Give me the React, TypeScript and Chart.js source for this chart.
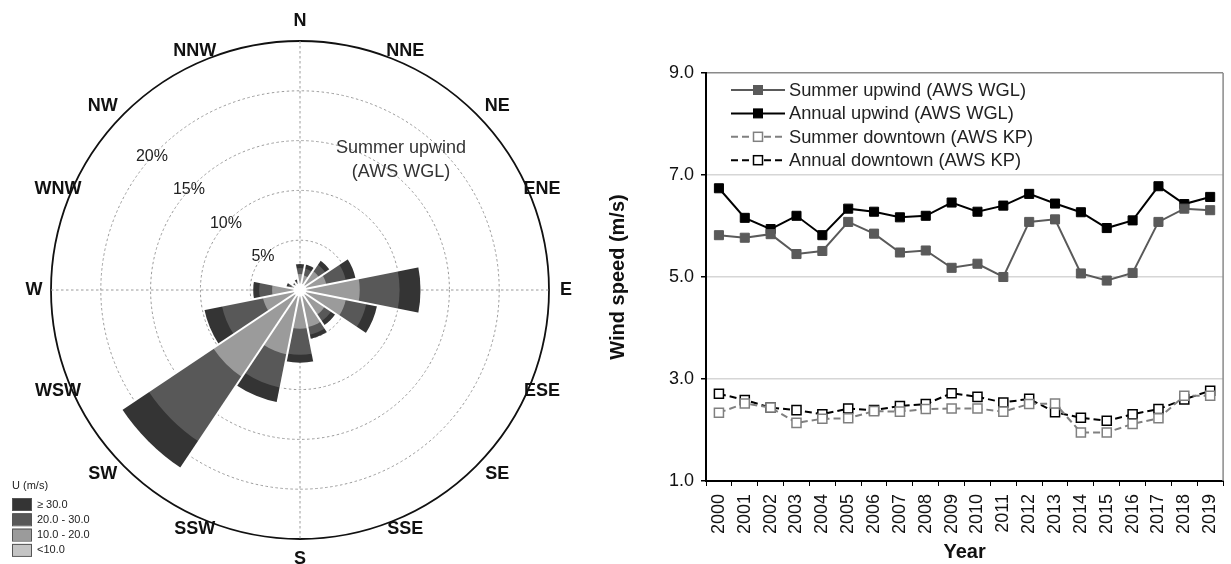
import React, { useEffect, useRef } from 'react';
import { Chart, registerables } from 'chart.js';

Chart.register(...registerables);

const FONT = "'Liberation Sans', Arial, Helvetica, sans-serif";
Chart.defaults.font.family = FONT;

// ---------- Wind rose data (frequency, %) ----------
const directions = ['N', 'NNE', 'NE', 'ENE', 'E', 'ESE', 'SE', 'SSE', 'S', 'SSW', 'SW', 'WSW', 'W', 'WNW', 'NW', 'NNW'];
const speedClasses = ['<10.0', '10.0 - 20.0', '20.0 - 30.0', '\u2265 30.0'];
const freqBelow10 = [0.4, 0.4, 0.4, 0.4, 0.5, 0.4, 0.4, 0.4, 0.4, 0.4, 0.5, 0.4, 0.4, 0.3, 0.3, 0.3];
const freq10to20 = [1.2, 1.1, 1.9, 2.3, 5.5, 4.3, 2.6, 3.4, 3.5, 6.2, 10.0, 3.4, 2.4, 0.6, 0.3, 0.4];
const freq20to30 = [0.6, 0.7, 0.8, 2.0, 4.0, 2.1, 0.8, 0.8, 2.6, 3.4, 7.8, 4.2, 1.3, 0.3, 0.2, 0.2];
const freqAbove30 = [0.4, 0.4, 0.5, 1.0, 2.1, 1.1, 0.5, 0.4, 0.8, 1.5, 3.2, 1.8, 0.6, 0.2, 0.1, 0.2];
const rosePercentTicks = [5, 10, 15, 20];
const roseMax = 25;
const roseTitle = ['Summer upwind', '(AWS WGL)'];
const roseLegendTitle = 'U (m/s)';

// ---------- Line chart data (m/s) ----------
const years = ['2000', '2001', '2002', '2003', '2004', '2005', '2006', '2007', '2008', '2009', '2010', '2011', '2012', '2013', '2014', '2015', '2016', '2017', '2018', '2019'];
const summerUpwind = [5.82, 5.77, 5.84, 5.45, 5.51, 6.08, 5.85, 5.48, 5.52, 5.18, 5.26, 5.0, 6.08, 6.13, 5.07, 4.93, 5.08, 6.08, 6.34, 6.31];
const annualUpwind = [6.74, 6.16, 5.94, 6.2, 5.82, 6.34, 6.28, 6.17, 6.2, 6.46, 6.28, 6.4, 6.63, 6.44, 6.27, 5.96, 6.11, 6.78, 6.43, 6.57];
const summerDowntown = [2.34, 2.52, 2.44, 2.14, 2.22, 2.23, 2.37, 2.36, 2.41, 2.42, 2.42, 2.36, 2.51, 2.52, 1.95, 1.95, 2.12, 2.23, 2.67, 2.67];
const annualDowntown = [2.71, 2.59, 2.44, 2.39, 2.31, 2.42, 2.39, 2.47, 2.51, 2.72, 2.65, 2.54, 2.61, 2.35, 2.24, 2.18, 2.31, 2.41, 2.6, 2.77];
const seriesLabels = ['Summer upwind (AWS WGL)', 'Annual upwind (AWS WGL)', 'Summer downtown (AWS KP)', 'Annual downtown (AWS KP)'];
const yTickValues = [1, 3, 5, 7, 9];
const xTitle = 'Year';
const yTitle = 'Wind speed (m/s)';

// ---------- styles ----------
const classColors = ['#c4c4c4', '#9b9b9b', '#585858', '#343434'];

const classArrays = [freqBelow10, freq10to20, freq20to30, freqAbove30];
const cumulative = classArrays.map((_, k) =>
  directions.map((__, i) => classArrays.slice(0, k + 1).reduce((s, a) => s + a[i], 0))
);

const deg = Math.PI / 180;

// label offsets beyond the outer circle [horizontal, vertical], by label kind
function labelOffset(k: number): [number, number] {
  if (k % 4 === 0) return [17, 20];
  if (k % 4 === 2) return [30, 11];
  if (k % 8 === 1 || k % 8 === 7) return [26, 10];
  return [13, 14];
}

const rosePlugin = {
  id: 'roseDecor',
  beforeDatasetsDraw(chart: any) {
    const s = chart.scales.r;
    const ctx = chart.ctx;
    const cx = s.xCenter, cy = s.yCenter, R = s.drawingArea;
    ctx.save();
    ctx.strokeStyle = '#9a9a9a';
    ctx.lineWidth = 1;
    ctx.setLineDash([2.5, 2.5]);
    ctx.beginPath();
    ctx.moveTo(cx, cy - R);
    ctx.lineTo(cx, cy + R);
    ctx.moveTo(cx - R, cy);
    ctx.lineTo(cx + R, cy);
    ctx.stroke();
    ctx.restore();
  },
  afterDatasetsDraw(chart: any) {
    const s = chart.scales.r;
    const ctx = chart.ctx;
    const cx = s.xCenter, cy = s.yCenter;
    const totals = cumulative[cumulative.length - 1];
    const n = directions.length;
    ctx.save();
    ctx.strokeStyle = '#ffffff';
    ctx.lineWidth = 2;
    for (let i = 0; i < n; i++) {
      const prev = totals[(i + n - 1) % n];
      const r = s.getDistanceFromCenterForValue(Math.max(prev, totals[i])) + 2;
      const p = s.getPointPosition(i, r);
      ctx.beginPath();
      ctx.moveTo(cx, cy);
      ctx.lineTo(p.x, p.y);
      ctx.stroke();
    }
    ctx.fillStyle = '#ffffff';
    ctx.beginPath();
    ctx.arc(cx, cy, 6.5, 0, Math.PI * 2);
    ctx.fill();
    ctx.restore();
  },
  afterDraw(chart: any) {
    const s = chart.scales.r;
    const ctx = chart.ctx;
    const cx = s.xCenter, cy = s.yCenter, R = s.drawingArea;
    ctx.save();
    // direction labels
    ctx.fillStyle = '#111';
    ctx.font = `bold 18px ${FONT}`;
    ctx.textAlign = 'center';
    ctx.textBaseline = 'middle';
    directions.forEach((d, k) => {
      const a = k * 22.5 * deg;
      const [ox, oy] = labelOffset(k);
      ctx.fillText(d, cx + Math.sin(a) * (R + ox), cy - Math.cos(a) * (R + oy));
    });
    // percent labels
    ctx.font = `16px ${FONT}`;
    ctx.fillStyle = '#222';
    const la = -48 * deg;
    rosePercentTicks.forEach((v) => {
      const r = s.getDistanceFromCenterForValue(v);
      ctx.fillText(`${v}%`, cx + Math.sin(la) * r, cy - Math.cos(la) * r);
    });
    // title
    ctx.font = `18px ${FONT}`;
    ctx.fillStyle = '#333';
    ctx.fillText(roseTitle[0], cx + 101, cy - 142);
    ctx.fillText(roseTitle[1], cx + 101, cy - 118);
    // legend
    ctx.textAlign = 'left';
    ctx.font = `11px ${FONT}`;
    ctx.fillStyle = '#222';
    ctx.fillText(roseLegendTitle, 12, 486);
    const order = [3, 2, 1, 0];
    order.forEach((k, row) => {
      const top = 498 + row * 15.3;
      ctx.fillStyle = classColors[k];
      ctx.fillRect(12.5, top, 19, 12);
      ctx.strokeStyle = '#555';
      ctx.lineWidth = 1;
      ctx.strokeRect(12.5, top + 0.5, 19, 12);
      ctx.fillStyle = '#222';
      ctx.fillText(speedClasses[k], 37, top + 6.5);
    });
    ctx.restore();
  },
};

const lineLegendPlugin = {
  id: 'lineLegend',
  afterDraw(chart: any) {
    const ctx = chart.ctx;
    const a = chart.chartArea;
    ctx.save();
    // right frame border
    ctx.strokeStyle = '#8a8a8a';
    ctx.lineWidth = 1.5;
    ctx.beginPath();
    ctx.moveTo(a.right, a.top);
    ctx.lineTo(a.right, a.bottom);
    ctx.stroke();
    chart.data.datasets.forEach((ds: any, i: number) => {
      const y = a.top + 17 + i * 23.4;
      const x0 = a.left + 25;
      const x1 = a.left + 79;
      const xm = (x0 + x1) / 2;
      ctx.strokeStyle = ds.borderColor;
      ctx.lineWidth = 2;
      ctx.setLineDash(ds.borderDash || []);
      ctx.beginPath();
      ctx.moveTo(x0, y);
      ctx.lineTo(x1, y);
      ctx.stroke();
      ctx.setLineDash([]);
      const half = 4.5;
      ctx.fillStyle = ds.pointBackgroundColor;
      ctx.fillRect(xm - half, y - half, half * 2, half * 2);
      ctx.strokeStyle = ds.pointBorderColor;
      ctx.lineWidth = ds.pointBorderWidth;
      ctx.strokeRect(xm - half, y - half, half * 2, half * 2);
      ctx.fillStyle = '#222';
      ctx.font = `18.3px ${FONT}`;
      ctx.textAlign = 'left';
      ctx.textBaseline = 'middle';
      ctx.fillText(ds.label, x1 + 4, y + 1);
    });
    ctx.restore();
  },
};

function roseConfig(): any {
  return {
    type: 'polarArea',
    data: {
      labels: directions,
      datasets: cumulative.map((data, k) => ({
        label: speedClasses[k],
        data,
        backgroundColor: classColors[k],
        borderWidth: 0,
      })),
    },
    options: {
      responsive: false,
      animation: false,
      layout: { padding: { left: 51, right: 51, top: 41, bottom: 25 } },
      plugins: { legend: { display: false }, tooltip: { enabled: false } },
      scales: {
        r: {
          min: 0,
          max: roseMax,
          startAngle: -11.25,
          ticks: { display: false, stepSize: 5 },
          grid: {
            circular: true,
            color: (c: any) => (c.tick && c.tick.value === roseMax ? '#111' : '#9a9a9a'),
            lineWidth: (c: any) => (c.tick && c.tick.value === roseMax ? 1.8 : 1),
          },
          border: {
            dash: (c: any) => (c.tick && c.tick.value === roseMax ? [] : [2.5, 2.5]),
          },
          angleLines: { display: false },
          pointLabels: { display: false },
        },
      },
    },
    plugins: [rosePlugin],
  };
}

function lineConfig(): any {
  return {
    type: 'line',
    data: {
      labels: years,
      datasets: [
        {
          label: seriesLabels[0],
          data: summerUpwind,
          borderColor: '#5a5a5a',
          borderWidth: 2,
          pointStyle: 'rect',
          pointRadius: 6.4,
          pointBackgroundColor: '#5a5a5a',
          pointBorderColor: '#5a5a5a',
          pointBorderWidth: 1,
        },
        {
          label: seriesLabels[1],
          data: annualUpwind,
          borderColor: '#000000',
          borderWidth: 2,
          pointStyle: 'rect',
          pointRadius: 6.4,
          pointBackgroundColor: '#000000',
          pointBorderColor: '#000000',
          pointBorderWidth: 1,
        },
        {
          label: seriesLabels[2],
          data: summerDowntown,
          borderColor: '#808080',
          borderWidth: 2,
          borderDash: [7, 4],
          pointStyle: 'rect',
          pointRadius: 6.4,
          pointBackgroundColor: '#ffffff',
          pointBorderColor: '#808080',
          pointBorderWidth: 1.5,
        },
        {
          label: seriesLabels[3],
          data: annualDowntown,
          borderColor: '#000000',
          borderWidth: 2,
          borderDash: [7, 4],
          pointStyle: 'rect',
          pointRadius: 6.4,
          pointBackgroundColor: '#ffffff',
          pointBorderColor: '#000000',
          pointBorderWidth: 1.5,
        },
      ],
    },
    options: {
      responsive: false,
      animation: false,
      layout: { padding: { left: 0, right: 1, top: 73, bottom: 0 } },
      plugins: { legend: { display: false }, tooltip: { enabled: false } },
      scales: {
        x: {
          type: 'category',
          offset: true,
          grid: { display: true, drawOnChartArea: false, drawTicks: true, tickLength: 5, tickColor: '#000', offset: true },
          border: { display: true, color: '#000', width: 2 },
          ticks: { minRotation: 90, maxRotation: 90, autoSkip: false, padding: 8, color: '#111', font: { size: 18 } },
          title: { display: true, text: xTitle, color: '#111', font: { size: 20, weight: 'bold' }, padding: { top: 0, bottom: 0 } },
          afterFit: (s: any) => {
            s.height = 83;
            s.paddingLeft = 0;
            s.paddingRight = 0;
          },
        },
        y: {
          min: 1,
          max: 9,
          afterBuildTicks: (s: any) => {
            s.ticks = yTickValues.map((v) => ({ value: v }));
          },
          ticks: { padding: 7, color: '#111', font: { size: 18 }, callback: (v: any) => Number(v).toFixed(1) },
          grid: {
            color: (c: any) => {
              const v = c.tick ? c.tick.value : null;
              if (v === 9) return '#8a8a8a';
              if (v === 1) return 'rgba(0,0,0,0)';
              return '#d6d6d6';
            },
            lineWidth: 1.5,
            tickLength: 5,
            tickColor: '#000',
          },
          border: { display: true, color: '#000', width: 2 },
          title: { display: true, text: yTitle, color: '#111', font: { size: 20, weight: 'bold' }, padding: { top: 6, bottom: 0 } },
          afterFit: (s: any) => {
            s.width = 106;
          },
        },
      },
    },
    plugins: [lineLegendPlugin],
  };
}

export default function App() {
  const roseRef = useRef<HTMLCanvasElement>(null);
  const lineRef = useRef<HTMLCanvasElement>(null);
  useEffect(() => {
    const rose = new Chart(roseRef.current as HTMLCanvasElement, roseConfig());
    const line = new Chart(lineRef.current as HTMLCanvasElement, lineConfig());
    return () => {
      rose.destroy();
      line.destroy();
    };
  }, []);
  return (
    <div style={{ position: 'absolute', left: 0, top: 0, width: 1231, height: 564, background: '#ffffff', overflow: 'hidden' }}>
      <canvas ref={roseRef} width={600} height={564} style={{ position: 'absolute', left: 0, top: 0, width: 600, height: 564 }} />
      <canvas ref={lineRef} width={631} height={564} style={{ position: 'absolute', left: 600, top: 0, width: 631, height: 564 }} />
    </div>
  );
}
